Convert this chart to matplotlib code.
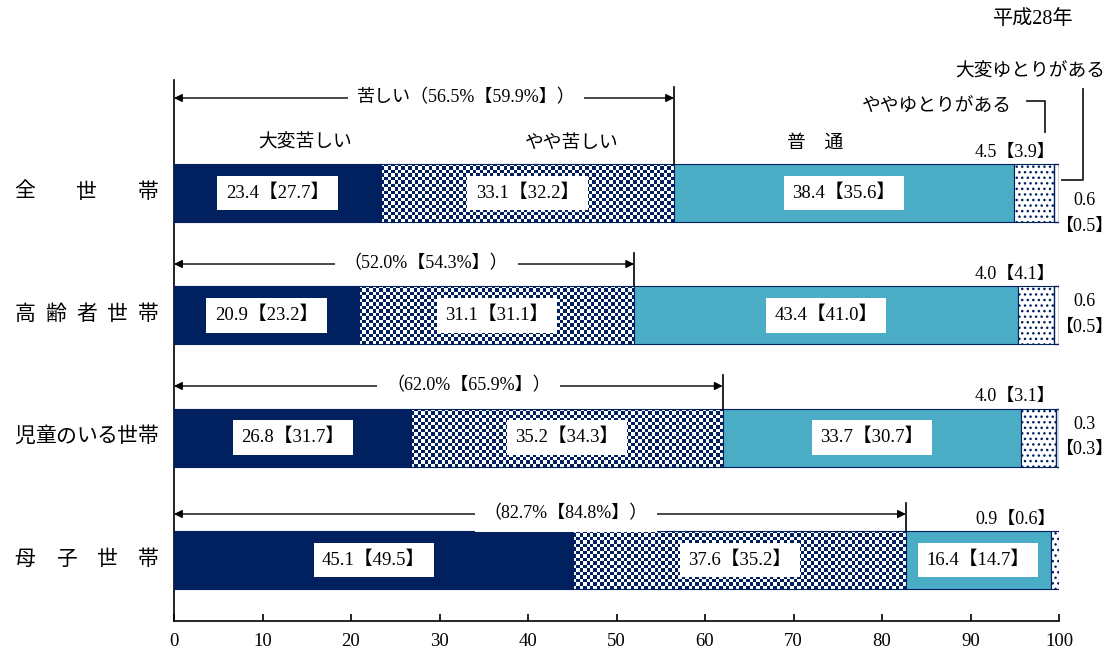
import numpy as np
import matplotlib
matplotlib.use("Agg")
import matplotlib.pyplot as plt
from matplotlib.patches import Rectangle
from matplotlib.colors import ListedColormap

plt.rcParams['font.family'] = ['Liberation Serif', 'Noto Sans CJK JP', 'DejaVu Sans']
plt.rcParams['hatch.linewidth'] = 1.0

# ---------------- data ----------------
categories = ["全世帯", "高齢者世帯", "児童のいる世帯", "母子世帯"]
series_names = ["大変苦しい", "やや苦しい", "普　通", "ややゆとりがある", "大変ゆとりがある"]
values = [
    [23.4, 33.1, 38.4, 4.5, 0.6],
    [20.9, 31.1, 43.4, 4.0, 0.6],
    [26.8, 35.2, 33.7, 4.0, 0.3],
    [45.1, 37.6, 16.4, 0.9, 0.0],
]
prev_values = [
    [27.7, 32.2, 35.6, 3.9, 0.5],
    [23.2, 31.1, 41.0, 4.1, 0.5],
    [31.7, 34.3, 30.7, 3.1, 0.3],
    [49.5, 35.2, 14.7, 0.6, None],
]
hard_total = [56.5, 52.0, 62.0, 82.7]
hard_total_prev = [59.9, 54.3, 65.9, 84.8]
year_label = "平成28年"
xticks = [0, 10, 20, 30, 40, 50, 60, 70, 80, 90, 100]

NAVY = "#002060"
TEAL = "#4BACC6"

# ---------------- figure ----------------
W, H = 1115, 650
fig = plt.figure(figsize=(W / 100, H / 100), dpi=100)
X0, X1, YT, YB = 174, 1059, 80, 621
ax = fig.add_axes([X0 / W, 1 - YB / H, (X1 - X0) / W, (YB - YT) / H])

ROW_PX = 122.33
CENTER0 = 193
ax.set_xlim(0, 100)
ax.set_ylim(3 + (YB - 560) / ROW_PX, (YT - CENTER0) / ROW_PX)

PXX = (X1 - X0) / 100.0


def px2x(px):
    return (px - X0) / PXX


def px2y(py):
    return (py - CENTER0) / ROW_PX


bar_h = 58 / ROW_PX
cell_px = 3.4


def checker(ax, left, width, yc, h):
    nx = max(1, int(round(width * PXX / cell_px)))
    ny = max(1, int(round(h * ROW_PX / cell_px)))
    arr = (np.add.outer(np.arange(ny), np.arange(nx)) % 2).astype(float)
    rect = Rectangle((left, yc - h / 2), width, h, fc='white', ec='none', zorder=2)
    ax.add_patch(rect)
    im = ax.imshow(arr, cmap=ListedColormap(['white', NAVY]), vmin=0, vmax=1,
                   extent=(left, left + width, yc + h / 2, yc - h / 2),
                   interpolation='nearest', aspect='auto', zorder=2.5)
    im.set_clip_path(rect)


for i, row in enumerate(values):
    left = 0.0
    for j, v in enumerate(row):
        if v <= 0:
            continue
        if j == 0:
            ax.add_patch(Rectangle((left, i - bar_h / 2), v, bar_h, fc=NAVY, ec=NAVY, lw=0.8, zorder=3))
        elif j == 1:
            checker(ax, left, v, i, bar_h)
            ax.add_patch(Rectangle((left, i - bar_h / 2), v, bar_h, fc='none', ec=NAVY, lw=0.8, zorder=3))
        elif j == 2:
            ax.add_patch(Rectangle((left, i - bar_h / 2), v, bar_h, fc=TEAL, ec=NAVY, lw=0.8, zorder=3))
        elif j == 3:
            ax.add_patch(Rectangle((left, i - bar_h / 2), v, bar_h, fc='white', ec=NAVY,
                                   hatch='...', lw=0.8, zorder=3))
        else:
            ax.add_patch(Rectangle((left, i - bar_h / 2), v, bar_h, fc='white', ec=NAVY, lw=1.0, zorder=3))
        left += v

# right-hand label offsets (px from bar centre)
right_off = [(7, 33), (-14, 12), (-13, 12), (-13, 12)]

# value boxes in first three segments
for i, row in enumerate(values):
    left = 0.0
    for j in range(3):
        v = row[j]
        ax.text(left + v / 2, i, f"{v:.1f}【{prev_values[i][j]:.1f}】", ha='center', va='center',
                fontsize=13.5, zorder=6,
                bbox=dict(boxstyle='square,pad=0.45', fc='white', ec='none'))
        left += v
    # small segment labels
    ax.text(99.6, i - bar_h / 2 - 12 / ROW_PX, f"{row[3]:.1f}【{prev_values[i][3]:.1f}】",
            ha='right', va='center', fontsize=13, zorder=6)
    if row[4] > 0:
        o1, o2 = right_off[i]
        ax.text(px2x(1085), i + o1 / ROW_PX, f"{row[4]:.1f}", ha='center', va='center',
                fontsize=13, clip_on=False)
        ax.text(px2x(1085), i + o2 / ROW_PX, f"【{prev_values[i][4]:.1f}】", ha='center', va='center',
                fontsize=13, clip_on=False)

# "hard" totals arrows
arrow_y = [px2y(98), 1 + px2y(264 - 122.33), 2 + px2y(386 - 244.67), 3 + px2y(514 - 367)]
label_x = [33.0, 28.5, 33.3, 44.3]
for i, tot in enumerate(hard_total):
    ya = arrow_y[i]
    ax.plot([tot, tot], [ya - 11 / ROW_PX, i - bar_h / 2], color='black', lw=1.2, zorder=5)
    ax.annotate('', xy=(0, ya), xytext=(tot, ya),
                arrowprops=dict(arrowstyle='<|-|>', color='black', lw=1.0,
                                mutation_scale=12, shrinkA=0, shrinkB=0), zorder=5)
    prefix = "苦しい" if i == 0 else ""
    ax.text(label_x[i], ya, f"{prefix}（{tot:.1f}%【{hard_total_prev[i]:.1f}%】）",
            ha='center', va='center', fontsize=13, zorder=6,
            bbox=dict(boxstyle='square,pad=0.5', fc='white', ec='none'))

# series headers over first row
hy = px2y(143)
ax.text(14.8, hy, series_names[0], ha='center', va='center', fontsize=13.5)
ax.text(45.0, hy, series_names[1], ha='center', va='center', fontsize=13.5)
ax.text(72.4, hy, series_names[2], ha='center', va='center', fontsize=13.5)
ax.text(px2x(937), px2y(107), series_names[3], ha='center', va='center', fontsize=13.5, clip_on=False)
ax.text(px2x(1030), px2y(72), series_names[4], ha='center', va='center', fontsize=13.5, clip_on=False)
ax.plot([px2x(1027), px2x(1045), px2x(1045)], [px2y(101), px2y(101), px2y(132)],
        color='#222222', lw=1.3, clip_on=False)
ax.plot([px2x(1083), px2x(1083), px2x(1062)], [px2y(89), px2y(180), px2y(180)],
        color='#222222', lw=1.3, clip_on=False)

# year label
fig.text(1033 / W, 1 - 20 / H, year_label, ha='center', va='center', fontsize=14.5)

# category labels (justified)
for i, cat in enumerate(categories):
    n = len(cat)
    xs = np.linspace(25, 148, n) if n > 1 else [86]
    for ch, xp in zip(cat, xs):
        fig.text(xp / W, 1 - (CENTER0 + i * ROW_PX) / H, ch, ha='center', va='center', fontsize=15)

# axes styling
for s in ['top', 'right']:
    ax.spines[s].set_visible(False)
ax.spines['left'].set_linewidth(1.2)
ax.spines['bottom'].set_linewidth(1.2)
ax.set_yticks([])
ax.set_xticks(xticks)
ax.set_xticklabels([str(t) for t in xticks])
ax.tick_params(axis='x', direction='in', length=5, width=1.2, labelsize=13.5, pad=9)

fig.savefig("out.png", dpi=100)
